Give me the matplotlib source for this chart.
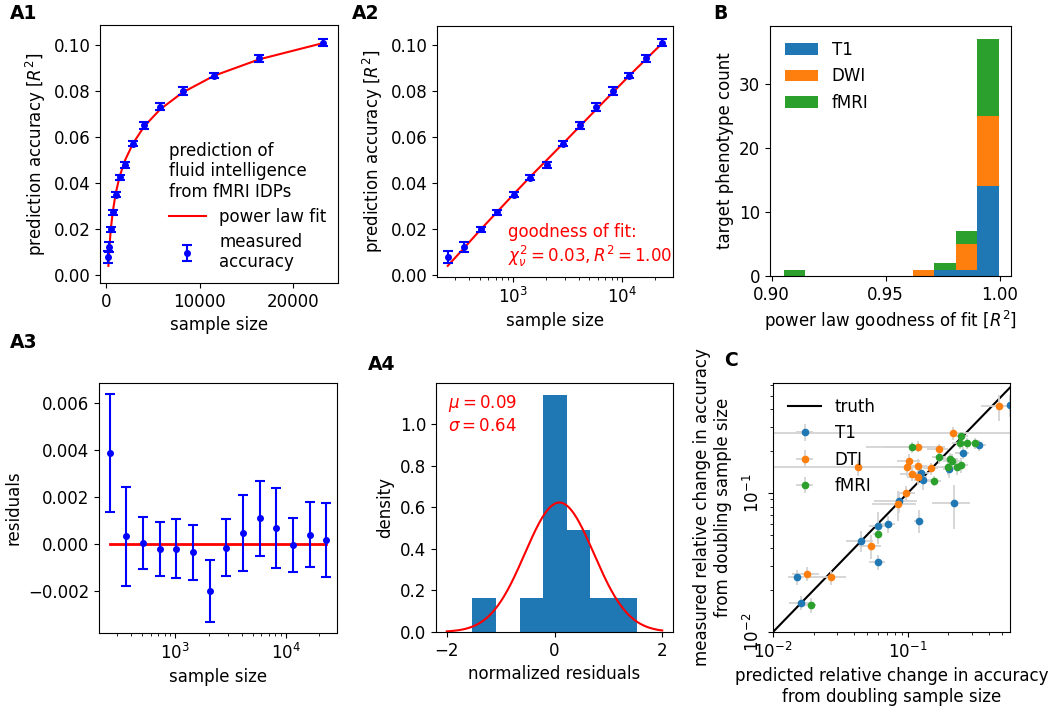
import numpy as np
import matplotlib
matplotlib.use('Agg')
from matplotlib import pyplot as plt

# sample sizes (A1, A2, A3)
sample_size = [256, 362, 512, 724, 1024, 1448, 2048, 2896, 4096, 5793, 8192, 11585, 16384, 23170]
accuracy = [0.0080, 0.0123, 0.0200, 0.0274, 0.0351, 0.0425, 0.0481, 0.0572,
            0.0652, 0.0732, 0.0801, 0.0867, 0.0942, 0.1010]
residual = [0.00385, 0.00033, 0.00004, -0.00020, -0.00020, -0.00035, -0.00198, -0.00015,
            0.00047, 0.00110, 0.00068, -0.00003, 0.00040, 0.00018]
acc_err = [0.00250, 0.00208, 0.00110, 0.00113, 0.00125, 0.00115, 0.00130, 0.00120,
           0.00160, 0.00160, 0.00170, 0.00116, 0.00137, 0.00158]

# B: histogram of power law goodness of fit, counts per bin
b_edges = [0.9054, 0.9148, 0.9242, 0.9336, 0.9430, 0.9525, 0.9619, 0.9713, 0.9807, 0.9902, 0.9996]
t1_counts = [0, 0, 0, 0, 0, 0, 0, 1, 1, 14]
dwi_counts = [0, 0, 0, 0, 0, 0, 1, 0, 4, 11]
fmri_counts = [1, 0, 0, 0, 0, 0, 0, 1, 2, 12]

# C: predicted vs measured relative change
t1_x = [0.571, 0.340, 0.256, 0.202, 0.125, 0.131, 0.0867, 0.221, 0.121, 0.071, 0.0598, 0.045, 0.0598, 0.015, 0.0161]
t1_y = [0.430, 0.222, 0.195, 0.149, 0.139, 0.125, 0.087, 0.0848, 0.0632, 0.060, 0.058, 0.0455, 0.0318, 0.0248, 0.0163]
t1_xerr = [0.02, 0.04, 0.03, 0.02, 0.02, 0.02, 0.03, 0.07, 0.01, 0.01, 0.008, 0.01, 0.008, 0.002, 0.003]
t1_yerr = [0.08, 0.02, 0.02, 0.02, 0.02, 0.02, 0.015, 0.03, 0.012, 0.008, 0.015, 0.008, 0.004, 0.003, 0.002]

dti_x = [0.479, 0.216, 0.119, 0.170, 0.103, 0.0427, 0.0995, 0.119, 0.149, 0.107, 0.119, 0.0977, 0.0843, 0.0533, 0.0179, 0.0268]
dti_y = [0.420, 0.270, 0.216, 0.206, 0.170, 0.153, 0.153, 0.157, 0.151, 0.137, 0.130, 0.100, 0.083, 0.0417, 0.0262, 0.0247]
dti_xerr = [0.13, 0.40, 0.07, 0.03, 0.02, 0.20, 0.02, 0.02, 0.02, 0.02, 0.02, 0.015, 0.03, 0.01, 0.004, 0.008]
dti_yerr = [0.09, 0.03, 0.02, 0.02, 0.02, 0.02, 0.02, 0.02, 0.015, 0.015, 0.015, 0.012, 0.02, 0.008, 0.003, 0.003]

fmri_x = [0.249, 0.245, 0.275, 0.316, 0.108, 0.171, 0.206, 0.213, 0.198, 0.233, 0.249, 0.157, 0.0598, 0.019]
fmri_y = [0.257, 0.229, 0.229, 0.229, 0.213, 0.182, 0.175, 0.170, 0.154, 0.154, 0.159, 0.122, 0.0508, 0.0156]
fmri_xerr = [0.03, 0.03, 0.03, 0.04, 0.04, 0.02, 0.03, 0.03, 0.02, 0.03, 0.03, 0.02, 0.005, 0.002]
fmri_yerr = [0.02, 0.02, 0.02, 0.02, 0.02, 0.02, 0.02, 0.02, 0.02, 0.02, 0.02, 0.01, 0.005, 0.002]

plt.rcParams['font.size'] = 12
plt.rcParams['font.family'] = ['DejaVu Sans']

W, H = 1050, 711
fig = plt.figure(figsize=(W / 100, H / 100), dpi=100)


def add_ax(l, t, r, b):
    return fig.add_axes([l / W, 1 - b / H, (r - l) / W, (b - t) / H])


def panel_label(x, y, s):
    fig.text(x / W, 1 - y / H, s, fontsize=13.5, fontweight='bold', va='top', ha='left')


n = np.array(sample_size)
acc = np.array(accuracy)
res = np.array(residual)
err = np.array(acc_err)
fit = acc - res

# A1
ax1 = add_ax(100, 25, 338, 283)
ax1.plot(n, fit, color='red', lw=1.5, label='power law fit')
ax1.errorbar(n, acc, yerr=err, fmt='o', color='blue', ms=4, capsize=3.5,
             elinewidth=1.5, capthick=1.5, label='measured\naccuracy')
ax1.set_xlim(-640, 24800)
ax1.set_ylim(-0.0033, 0.1087)
ax1.set_xticks([0, 10000, 20000])
ax1.set_yticks(np.arange(0, 0.11, 0.02))
ax1.set_xlabel('sample size')
ax1.set_ylabel('prediction accuracy [$R^2$]')
ax1.legend(loc='lower right', frameon=False, title='prediction of\nfluid intelligence\nfrom fMRI IDPs',
           title_fontsize=12, alignment='left', handlelength=2.2, borderaxespad=0.3,
           labelspacing=0.4)

# A2
ax2 = add_ax(437, 26, 673, 277)
ax2.plot(n, fit, color='red', lw=1.5)
ax2.errorbar(n, acc, yerr=err, fmt='o', color='blue', ms=4, capsize=3.5,
             elinewidth=1.5, capthick=1.5)
ax2.set_xscale('log')
ax2.set_ylim(-0.0007, 0.1083)
ax2.set_yticks(np.arange(0, 0.11, 0.02))
ax2.set_xlabel('sample size')
ax2.set_ylabel('prediction accuracy [$R^2$]')
ax2.text(0.30, 0.03, 'goodness of fit:\n$\\chi_\\nu^2 = 0.03, R^2 = 1.00$', color='red',
         transform=ax2.transAxes, ha='left', va='bottom', fontsize=12)

# B
axb = add_ax(770, 26, 1011, 276)
centers = [(b_edges[i] + b_edges[i + 1]) / 2 for i in range(len(b_edges) - 1)]
axb.hist([centers, centers, centers], bins=b_edges, weights=[t1_counts, dwi_counts, fmri_counts],
         stacked=True, color=['#1f77b4', '#ff7f0e', '#2ca02c'], label=['T1', 'DWI', 'fMRI'])
axb.set_xlim(0.8993, 1.0049)
axb.set_ylim(0, 39.1)
axb.set_xticks([0.90, 0.95, 1.00])
axb.set_yticks([0, 10, 20, 30])
axb.set_xlabel('power law goodness of fit [$R^2$]')
axb.set_ylabel('target phenotype count')
axb.legend(loc='upper left', frameon=False)

# A3
ax3 = add_ax(99, 383, 337, 633)
ax3.plot(n, np.zeros(len(n)), color='red', lw=2)
ax3.errorbar(n, res, yerr=err, fmt='o', color='blue', ms=4, capsize=3.5,
             elinewidth=1.5, capthick=1.5)
ax3.set_xscale('log')
ax3.set_yticks([-0.002, 0.0, 0.002, 0.004, 0.006])
ax3.set_xlabel('sample size')
ax3.set_ylabel('residuals')

# A4
ax4 = add_ax(436, 383, 673, 632)
z = res / err
ax4.hist(z, bins=7, density=True, color='#1f77b4')
mu, sigma = 0.09, 0.64
xs = np.linspace(-2, 2, 200)
ax4.plot(xs, np.exp(-(xs - mu) ** 2 / (2 * sigma ** 2)) / (sigma * np.sqrt(2 * np.pi)), color='red', lw=1.5)
ax4.set_xlim(-2.2, 2.2)
ax4.set_ylim(0, 1.199)
ax4.set_xticks([-2, 0, 2])
ax4.set_yticks(np.arange(0, 1.1, 0.2))
ax4.set_xlabel('normalized residuals')
ax4.set_ylabel('density')
ax4.text(0.05, 0.96, '$\\mu = 0.09$\n$\\sigma = 0.64$', color='red', transform=ax4.transAxes,
         ha='left', va='top', fontsize=12)

# C
axc = add_ax(773, 383, 1010, 632)
axc.plot([0.01, 1], [0.01, 1], color='black', lw=1.5, label='truth')
for xs_, ys_, xe, ye, c, lab in [(t1_x, t1_y, t1_xerr, t1_yerr, '#1f77b4', 'T1'),
                                 (dti_x, dti_y, dti_xerr, dti_yerr, '#ff7f0e', 'DTI'),
                                 (fmri_x, fmri_y, fmri_xerr, fmri_yerr, '#2ca02c', 'fMRI')]:
    axc.errorbar(xs_, ys_, xerr=xe, yerr=ye, fmt='o', color=c, ms=4.5, ecolor='lightgray',
                 elinewidth=1.3, label=lab)
axc.set_xscale('log')
axc.set_yscale('log')
axc.set_xlim(0.01, 0.575)
axc.set_ylim(0.01, 0.62)
for lbl in axc.get_yticklabels():
    lbl.set_rotation(90)
    lbl.set_va('center')
axc.set_xlabel('predicted relative change in accuracy\nfrom doubling sample size')
axc.set_ylabel('measured relative change in accuracy\nfrom doubling sample size', labelpad=8)
axc.legend(loc='upper left', frameon=False)

panel_label(10, 4, 'A1')
panel_label(352, 4, 'A2')
panel_label(713, 4, 'B')
panel_label(10, 333, 'A3')
panel_label(368, 355, 'A4')
panel_label(724, 351, 'C')

fig.savefig('out.png', dpi=100)
